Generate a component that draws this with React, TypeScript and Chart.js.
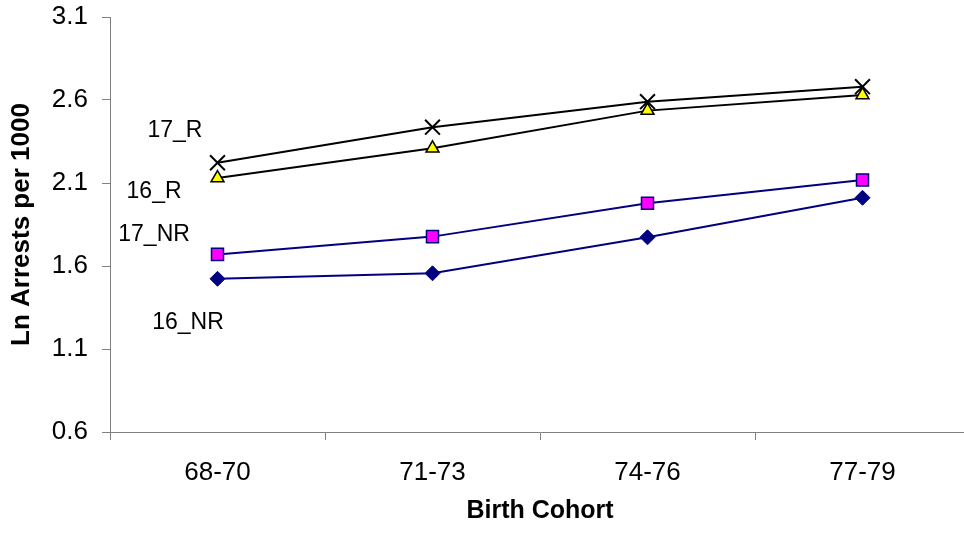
import React, { useEffect, useRef } from "react";
import { Chart, registerables } from "chart.js";

Chart.register(...registerables);

const categories = ["68-70", "71-73", "74-76", "77-79"];
const yTicks = [0.6, 1.1, 1.6, 2.1, 2.6, 3.1];

const r17 = [2.222, 2.436, 2.59, 2.68];
const r16 = [2.13, 2.309, 2.536, 2.63];
const nr17 = [1.67, 1.777, 1.978, 2.118];
const nr16 = [1.523, 1.556, 1.773, 2.011];

const seriesNames = ["17_R", "16_R", "17_NR", "16_NR"];
// label anchor positions in data units (category index, y value)
const labelX = [-0.198, -0.295, -0.295, -0.137];
const labelY = [2.413, 2.046, 1.787, 1.257];

const FONT = "'Liberation Sans', Arial, sans-serif";

const labelPlugin = {
  id: "seriesLabels",
  afterDatasetsDraw(chart: any) {
    const { ctx, scales } = chart;
    ctx.save();
    ctx.font = `23px ${FONT}`;
    ctx.fillStyle = "#000";
    ctx.textAlign = "center";
    ctx.textBaseline = "middle";
    seriesNames.forEach((t, i) => {
      const px = scales.x.getPixelForValue(labelX[i]);
      const py = scales.y.getPixelForValue(labelY[i]);
      ctx.fillText(t, px, py);
    });
    ctx.restore();
  },
};

function zeroPad(scale: any) {
  scale.paddingTop = 0;
  scale.paddingBottom = 0;
  scale.paddingLeft = 0;
  scale.paddingRight = 0;
}

export default function App() {
  const ref = useRef<HTMLCanvasElement | null>(null);
  useEffect(() => {
    if (!ref.current) return;
    const chart = new Chart(ref.current, {
      type: "line",
      data: {
        labels: categories,
        datasets: [
          {
            label: "16_NR",
            data: nr16,
            borderColor: "#000080",
            backgroundColor: "#000080",
            borderWidth: 2,
            pointStyle: "rectRot",
            pointRadius: 7.5,
            pointBorderWidth: 1,
            pointBackgroundColor: "#000080",
            pointBorderColor: "#000080",
          },
          {
            label: "17_NR",
            data: nr17,
            borderColor: "#000080",
            backgroundColor: "#FF00FF",
            borderWidth: 2,
            pointStyle: "rect",
            pointRadius: 8.5,
            pointBorderWidth: 1.5,
            pointBackgroundColor: "#FF00FF",
            pointBorderColor: "#000080",
          },
          {
            label: "16_R",
            data: r16,
            borderColor: "#000000",
            backgroundColor: "#FFFF00",
            borderWidth: 2,
            pointStyle: "triangle",
            pointRadius: 7.5,
            pointBorderWidth: 1.5,
            pointBackgroundColor: "#FFFF00",
            pointBorderColor: "#000000",
          },
          {
            label: "17_R",
            data: r17,
            borderColor: "#000000",
            backgroundColor: "#000000",
            borderWidth: 2,
            pointStyle: "crossRot",
            pointRadius: 10.5,
            pointBorderWidth: 2,
            pointBorderColor: "#000000",
          },
        ],
      },
      options: {
        responsive: false,
        animation: false,
        layout: { autoPadding: false, padding: { top: 17, right: 0, bottom: 0, left: 0 } },
        plugins: {
          legend: { display: false },
          tooltip: { enabled: false },
        },
        scales: {
          x: {
            type: "category",
            offset: true,
            grid: {
              offset: true,
              drawOnChartArea: false,
              drawTicks: true,
              tickLength: 8,
              color: "#808080",
            },
            border: { display: true, color: "#808080", width: 1 },
            ticks: {
              color: "#000",
              font: { family: FONT, size: 26 },
              padding: 17,
              maxRotation: 0,
            },
            title: {
              display: true,
              text: "Birth Cohort",
              color: "#000",
              font: { family: FONT, size: 25, weight: "bold" },
              padding: { top: 0, bottom: 7 },
            },
            afterFit(scale: any) {
              scale.height = 101;
              zeroPad(scale);
            },
          },
          y: {
            min: 0.6,
            max: 3.1,
            afterBuildTicks(scale: any) {
              scale.ticks = yTicks.map((v) => ({ value: v }));
            },
            grid: {
              drawOnChartArea: false,
              drawTicks: true,
              tickLength: 8,
              color: "#808080",
            },
            border: { display: true, color: "#808080", width: 1 },
            ticks: {
              color: "#000",
              font: { family: FONT, size: 26 },
              padding: 14,
              callback: (v: any) => Number(v).toFixed(1),
            },
            title: {
              display: true,
              text: "Ln Arrests per 1000",
              color: "#000",
              font: { family: FONT, size: 26, weight: "bold" },
              padding: { top: 6, bottom: 0 },
            },
            afterFit(scale: any) {
              scale.width = 110;
              zeroPad(scale);
            },
          },
        },
      },
      plugins: [labelPlugin],
    });
    return () => chart.destroy();
  }, []);
  return (
    <div style={{ width: 964, height: 533, overflow: "hidden", background: "#fff" }}>
      <style>{`body{margin:0;overflow:hidden;}`}</style>
      <canvas ref={ref} width={970} height={533} style={{ display: "block" }} />
    </div>
  );
}
